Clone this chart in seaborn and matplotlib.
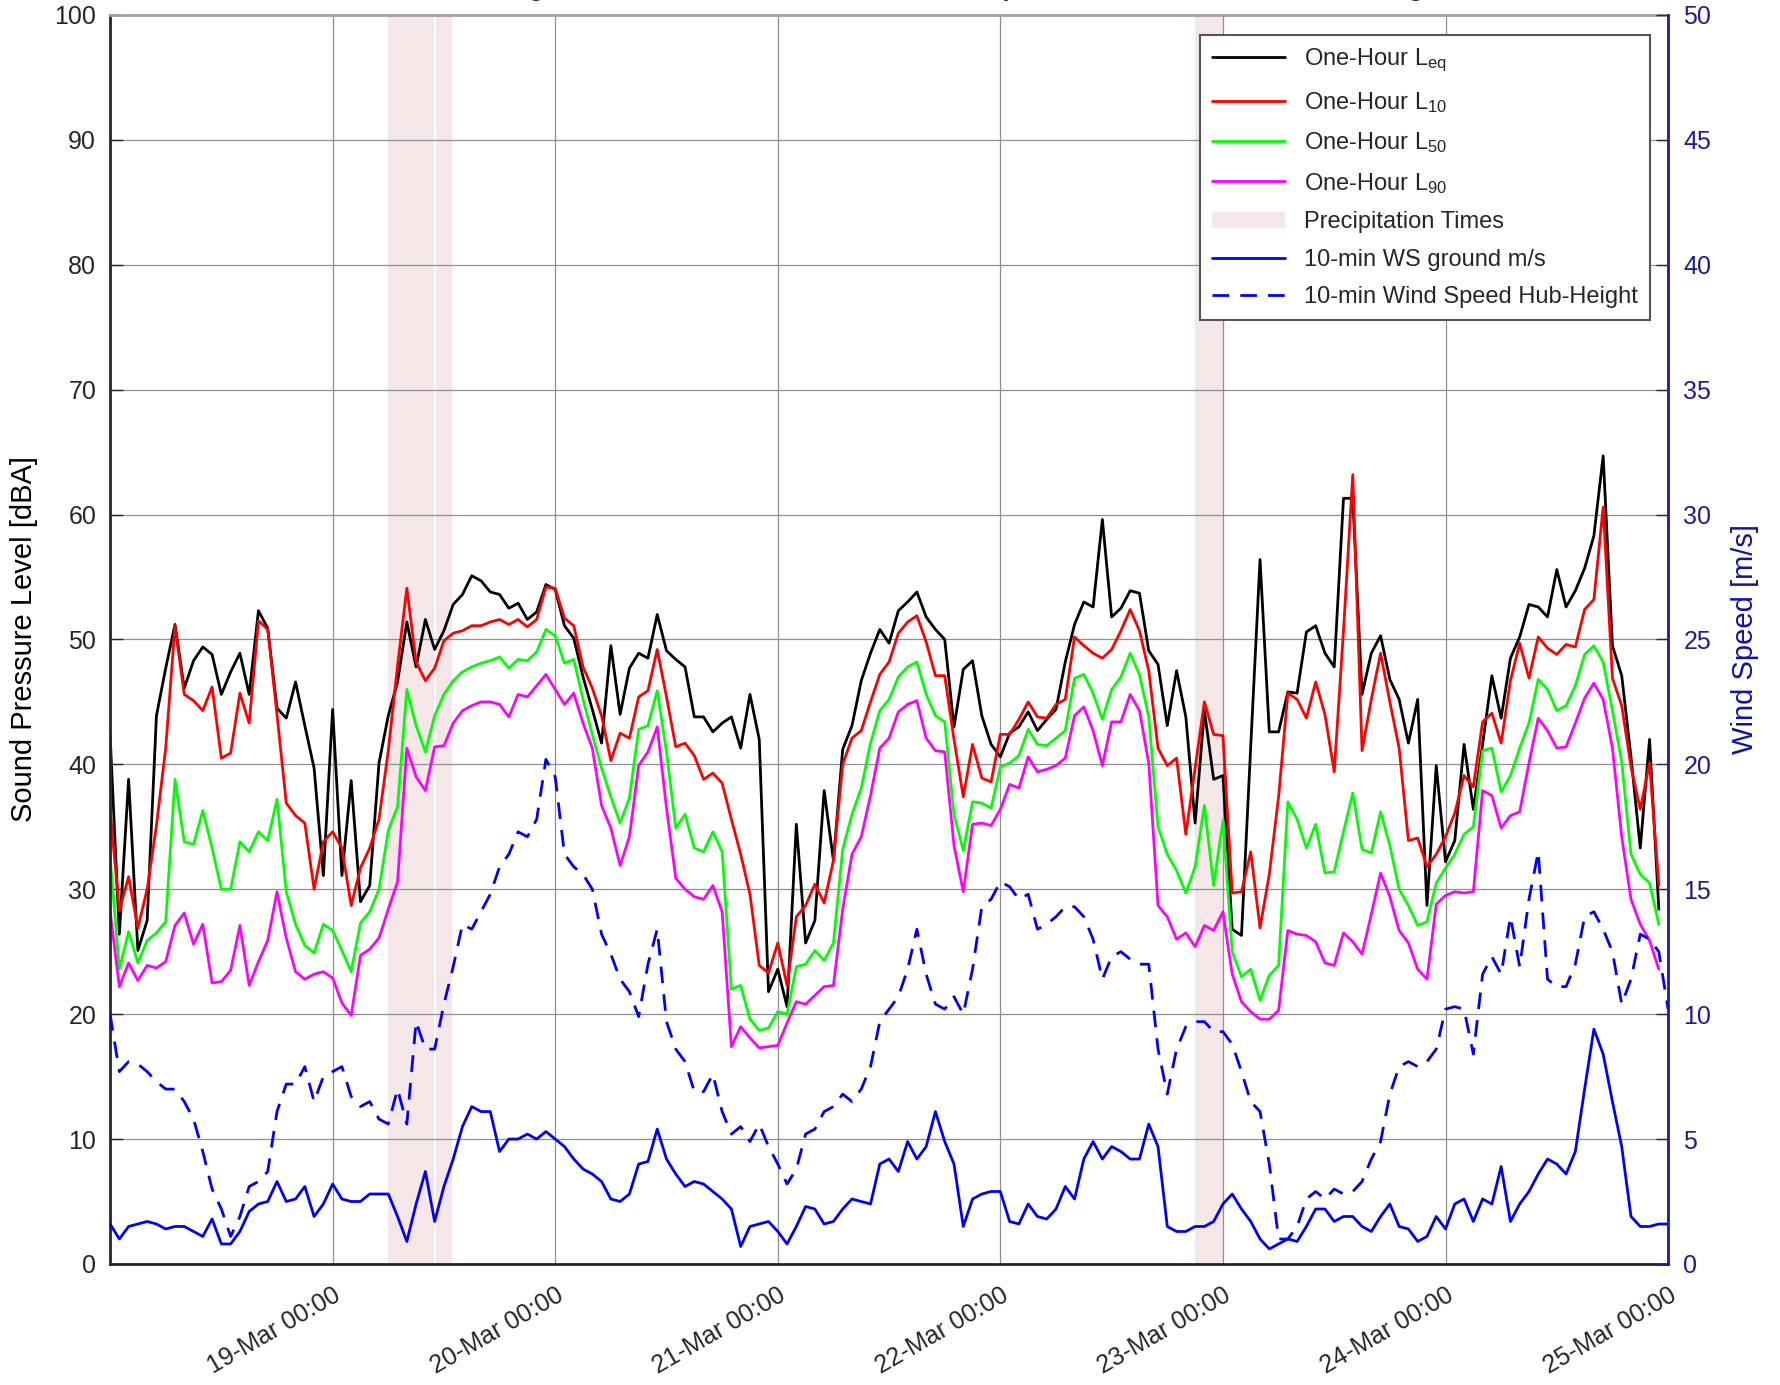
import numpy as np
import pandas as pd
import matplotlib
matplotlib.use('Agg')
import matplotlib.pyplot as plt
from matplotlib.patches import Patch
from matplotlib.lines import Line2D
import seaborn as sns

# ---- data (hourly sound levels, hourly wind readings) ----
start = pd.Timestamp('2019-03-18 00:00')

leq = [42.4, 26.4, 38.8, 25.1, 27.5, 43.9, 47.7, 51.2, 46.1, 48.3, 49.4, 48.8, 45.6, 47.4, 48.9, 45.6, 52.3, 50.9, 44.5, 43.7, 46.6, 43.1, 39.7, 31.1,
       44.4, 31.1, 38.7, 29.0, 30.3, 40.1, 43.9, 46.6, 51.4, 47.8, 51.6, 49.2, 50.7, 52.8, 53.6, 55.1, 54.7, 53.8, 53.6, 52.5, 52.9, 51.6, 52.2, 54.4,
       54.0, 51.1, 50.1, 47.0, 44.4, 41.7, 49.5, 44.0, 47.7, 48.9, 48.5, 52.0, 49.1, 48.4, 47.8, 43.8, 43.8, 42.6, 43.3, 43.8, 41.3, 45.6, 42.0, 21.8,
       23.6, 20.6, 35.2, 25.7, 27.5, 37.9, 32.3, 41.2, 43.1, 46.7, 48.9, 50.8, 49.7, 52.3, 53.0, 53.8, 51.8, 50.8, 50.0, 43.0, 47.6, 48.3, 43.9, 41.6,
       40.6, 42.5, 43.0, 44.2, 42.7, 43.6, 44.4, 48.2, 51.2, 53.0, 52.6, 59.6, 51.8, 52.5, 53.9, 53.7, 49.1, 48.0, 43.1, 47.5, 43.8, 35.3, 44.3, 38.8,
       39.1, 26.8, 26.3, 41.5, 56.4, 42.6, 42.6, 45.8, 45.7, 50.6, 51.1, 48.9, 47.8, 61.3, 61.3, 45.6, 48.9, 50.3, 46.8, 45.2, 41.7, 45.2, 28.7, 39.9,
       32.2, 33.9, 41.6, 36.4, 41.6, 47.1, 43.7, 48.5, 50.2, 52.8, 52.6, 51.8, 55.6, 52.6, 53.9, 55.7, 58.3, 64.7, 49.5, 47.1, 40.6, 33.3, 42.0, 28.4]

l10 = [36.4, 28.3, 31.0, 26.9, 30.0, 35.1, 41.3, 51.1, 45.6, 45.1, 44.3, 46.2, 40.5, 40.9, 45.7, 43.3, 51.5, 50.8, 44.0, 36.9, 35.9, 35.3, 30.0, 33.8,
       34.6, 33.3, 28.7, 31.7, 33.3, 35.6, 41.1, 47.9, 54.1, 48.2, 46.7, 47.7, 49.9, 50.5, 50.7, 51.1, 51.1, 51.4, 51.6, 51.2, 51.6, 51.0, 51.6, 54.2,
       54.1, 51.7, 51.1, 47.8, 46.1, 43.9, 40.3, 42.5, 42.1, 45.4, 45.9, 49.2, 45.4, 41.4, 41.7, 40.7, 38.8, 39.3, 38.5, 35.6, 32.8, 29.6, 23.9, 23.3,
       25.7, 22.3, 27.8, 28.7, 30.4, 28.9, 32.3, 40.0, 42.1, 42.7, 45.0, 47.2, 48.2, 50.5, 51.4, 51.9, 49.8, 47.1, 47.1, 42.0, 37.4, 41.6, 38.9, 38.6,
       42.4, 42.4, 43.6, 45.0, 43.8, 43.7, 44.8, 45.2, 50.2, 49.5, 48.9, 48.5, 49.2, 50.7, 52.4, 50.7, 47.5, 41.3, 39.9, 40.5, 34.4, 39.7, 45.0, 42.4,
       42.3, 29.7, 29.8, 33.0, 26.9, 31.2, 37.4, 45.7, 45.2, 43.7, 46.6, 44.0, 39.4, 50.7, 63.2, 41.1, 45.2, 48.9, 45.0, 41.3, 33.9, 34.1, 31.8, 32.8,
       34.2, 36.1, 39.1, 38.2, 43.4, 44.1, 41.7, 46.7, 49.7, 46.9, 50.2, 49.3, 48.8, 49.6, 49.4, 52.4, 53.2, 60.6, 46.9, 44.7, 39.8, 36.4, 40.1, 30.3]

l50 = [32.6, 23.6, 26.6, 24.1, 25.9, 26.5, 27.4, 38.8, 33.8, 33.6, 36.3, 33.3, 30.0, 30.0, 33.8, 33.0, 34.6, 33.9, 37.2, 29.8, 27.2, 25.5, 24.9, 27.2,
       26.7, 25.1, 23.4, 27.3, 28.2, 30.0, 34.7, 36.6, 46.0, 43.1, 41.0, 43.9, 45.6, 46.7, 47.4, 47.8, 48.1, 48.3, 48.6, 47.7, 48.4, 48.3, 49.0, 50.8,
       50.3, 48.1, 48.4, 45.2, 42.4, 39.7, 37.4, 35.3, 37.3, 42.8, 43.1, 45.9, 41.0, 34.9, 36.0, 33.3, 33.0, 34.6, 33.0, 22.0, 22.3, 19.6, 18.7, 18.9,
       20.2, 20.0, 23.8, 24.0, 25.1, 24.3, 25.7, 33.2, 36.0, 38.1, 41.7, 44.3, 45.2, 47.0, 47.8, 48.2, 45.6, 43.9, 43.4, 36.0, 33.1, 37.0, 36.9, 36.5,
       39.8, 40.1, 40.7, 42.8, 41.6, 41.5, 42.1, 42.7, 46.9, 47.2, 45.7, 43.6, 46.0, 47.0, 48.9, 47.2, 43.8, 35.0, 32.8, 31.5, 29.7, 31.8, 36.7, 30.3,
       35.5, 25.0, 23.0, 23.6, 21.1, 23.1, 23.9, 37.0, 35.6, 33.3, 35.2, 31.3, 31.4, 34.6, 37.7, 33.2, 32.9, 36.2, 33.5, 30.0, 28.7, 27.1, 27.4, 30.5,
       31.7, 32.8, 34.4, 35.0, 41.1, 41.3, 37.8, 39.1, 41.3, 43.3, 46.8, 46.0, 44.3, 44.7, 46.3, 48.8, 49.5, 48.2, 44.3, 40.2, 32.8, 31.2, 30.5, 27.2]

l90 = [28.3, 22.2, 24.1, 22.7, 23.9, 23.7, 24.2, 27.1, 28.1, 25.6, 27.2, 22.5, 22.6, 23.5, 27.1, 22.3, 24.2, 25.9, 29.8, 26.1, 23.4, 22.8, 23.2, 23.4,
       22.9, 20.9, 19.9, 24.7, 25.2, 26.1, 28.4, 30.6, 41.3, 39.0, 37.9, 41.4, 41.5, 43.3, 44.3, 44.7, 45.0, 45.0, 44.8, 43.8, 45.6, 45.4, 46.3, 47.2,
       46.0, 44.8, 45.7, 43.3, 41.3, 36.7, 34.9, 31.9, 34.2, 39.9, 41.0, 43.0, 36.5, 30.9, 30.0, 29.4, 29.2, 30.3, 28.2, 17.4, 19.0, 18.1, 17.3, 17.4,
       17.5, 19.3, 21.0, 20.8, 21.5, 22.2, 22.3, 28.4, 32.8, 34.2, 37.5, 41.3, 42.1, 44.2, 44.8, 45.1, 42.1, 41.1, 41.0, 33.5, 29.8, 35.2, 35.3, 35.1,
       36.4, 38.4, 38.1, 40.6, 39.4, 39.6, 39.9, 40.5, 43.9, 44.6, 42.7, 39.9, 43.4, 43.4, 45.6, 44.3, 40.1, 28.7, 27.8, 26.0, 26.5, 25.4, 27.1, 26.7,
       28.2, 23.2, 21.0, 20.2, 19.6, 19.6, 20.3, 26.7, 26.4, 26.3, 25.8, 24.1, 23.9, 26.5, 25.8, 24.8, 28.0, 31.3, 29.4, 26.7, 25.7, 23.6, 22.8, 28.8,
       29.5, 29.8, 29.7, 29.8, 37.9, 37.5, 34.9, 35.9, 36.2, 40.1, 43.7, 42.7, 41.3, 41.4, 43.3, 45.3, 46.5, 45.2, 41.3, 34.2, 29.2, 27.2, 25.9, 23.6]

ws_ground = [1.6, 1.0, 1.5, 1.6, 1.7, 1.6, 1.4, 1.5, 1.5, 1.3, 1.1, 1.8, 0.8, 0.8, 1.3, 2.1, 2.4, 2.5, 3.3, 2.5, 2.6, 3.1, 1.9, 2.4,
             3.2, 2.6, 2.5, 2.5, 2.8, 2.8, 2.8, 1.9, 0.9, 2.4, 3.7, 1.7, 3.1, 4.2, 5.5, 6.3, 6.1, 6.1, 4.5, 5.0, 5.0, 5.2, 5.0, 5.3,
             5.0, 4.7, 4.2, 3.8, 3.6, 3.3, 2.6, 2.5, 2.8, 4.0, 4.1, 5.4, 4.2, 3.6, 3.1, 3.3, 3.2, 2.9, 2.6, 2.2, 0.7, 1.5, 1.6, 1.7,
             1.3, 0.8, 1.5, 2.3, 2.2, 1.6, 1.7, 2.2, 2.6, 2.5, 2.4, 4.0, 4.2, 3.7, 4.9, 4.2, 4.7, 6.1, 4.9, 4.0, 1.5, 2.6, 2.8, 2.9,
             2.9, 1.7, 1.6, 2.4, 1.9, 1.8, 2.2, 3.1, 2.6, 4.2, 4.9, 4.2, 4.7, 4.5, 4.2, 4.2, 5.6, 4.7, 1.5, 1.3, 1.3, 1.5, 1.5, 1.7,
             2.4, 2.8, 2.2, 1.7, 1.0, 0.6, 0.8, 1.0, 0.9, 1.5, 2.2, 2.2, 1.7, 1.9, 1.9, 1.5, 1.3, 1.9, 2.4, 1.5, 1.4, 0.9, 1.1, 1.9,
             1.4, 2.4, 2.6, 1.7, 2.6, 2.4, 3.9, 1.7, 2.4, 2.9, 3.6, 4.2, 4.0, 3.6, 4.5, 7.0, 9.4, 8.4, 6.5, 4.7, 1.9, 1.5, 1.5, 1.6, 1.6]

ws_hub = [10.0, 7.7, 8.1, 8.0, 7.7, 7.3, 7.0, 7.0, 6.5, 5.8, 4.5, 3.0, 2.2, 1.1, 1.9, 3.1, 3.3, 3.7, 6.1, 7.2, 7.2, 7.9, 6.5, 7.5,
          7.7, 7.9, 6.7, 6.3, 6.5, 5.8, 5.6, 7.0, 5.6, 9.7, 8.6, 8.6, 10.4, 11.9, 13.6, 13.4, 14.1, 14.8, 15.9, 16.4, 17.3, 17.1, 17.8, 20.2,
          19.5, 16.4, 15.9, 15.6, 15.0, 13.2, 12.4, 11.4, 10.9, 9.9, 12.0, 13.4, 9.7, 8.6, 8.1, 6.9, 6.9, 7.6, 6.1, 5.2, 5.5, 4.9, 5.6, 4.7,
          4.0, 3.2, 3.8, 5.2, 5.4, 6.1, 6.3, 6.8, 6.5, 7.0, 7.9, 9.7, 10.2, 10.7, 11.8, 13.4, 11.6, 10.4, 10.2, 10.7, 10.0, 11.8, 14.3, 14.6,
          15.3, 15.1, 14.6, 14.8, 13.4, 13.6, 13.9, 14.3, 14.3, 13.9, 13.0, 11.4, 12.3, 12.5, 12.2, 12.0, 12.0, 8.6, 6.8, 8.6, 9.5, 9.7, 9.7, 9.3,
          9.3, 8.8, 7.7, 6.5, 6.1, 4.0, 1.0, 1.0, 1.5, 2.6, 2.9, 2.6, 3.0, 2.8, 2.9, 3.3, 4.2, 4.9, 6.8, 7.9, 8.1, 7.9, 8.1, 8.6,
          10.2, 10.3, 10.2, 8.4, 11.6, 12.3, 11.6, 13.9, 11.9, 14.6, 16.5, 11.4, 11.1, 11.1, 12.0, 13.9, 14.1, 13.4, 12.5, 10.4, 11.4, 13.2, 13.0, 12.5, 10.2]

# precipitation windows (hours after start)
precip_start = [30.0, 35.15, 117.0]
precip_end = [34.95, 36.9, 120.0]

day_ticks = pd.date_range('2019-03-19', '2019-03-25', freq='D')

# ---- style ----
sns.set_style('white')
plt.rcParams['font.family'] = ['Liberation Sans', 'DejaVu Sans']
plt.rcParams['mathtext.fontset'] = 'custom'
plt.rcParams['mathtext.rm'] = 'Liberation Sans'
plt.rcParams['mathtext.it'] = 'Liberation Sans:italic'

precip_col = '#F5E7E8'
navy = '#1C1C96'
lw = 2.0

fig = plt.figure(figsize=(17.81, 13.85), dpi=100)
ax = fig.add_axes([0.0618, 0.0874, 0.8748, 0.9018])

for s, e in zip(precip_start, precip_end):
    ax.axvspan(start + pd.Timedelta(hours=s), start + pd.Timedelta(hours=e),
               color=precip_col, lw=0, zorder=0)

t_snd = pd.date_range(start, periods=len(leq), freq='h')
for vals, col in [(leq, 'black'), (l10, '#FF0000'), (l50, '#00FF00'), (l90, '#FF00FF')]:
    sns.lineplot(x=t_snd[:len(vals)], y=vals, ax=ax, color=col, lw=lw)

ax.set_xlim(start, start + pd.Timedelta(days=7))
ax.set_ylim(0, 100)
ax.set_yticks(np.arange(0, 101, 10))
ax.set_xticks(day_ticks)
ax.set_xticklabels([d.strftime('%d-%b %H:%M') for d in day_ticks], rotation=30,
                   ha='right', rotation_mode='anchor', fontsize=18, color='#262626')
ax.tick_params(axis='y', labelsize=18, colors='#262626', direction='in', length=9, width=1, pad=10)
ax.tick_params(axis='x', direction='in', length=9, width=1, pad=14)
ax.grid(True, color='#8f8f8f', lw=0.9)
ax.set_ylabel('Sound Pressure Level [dBA]', fontsize=21, color='black', labelpad=12)
ax.set_xlabel('')
for sp in ['left', 'bottom']:
    ax.spines[sp].set_color('#262626')
    ax.spines[sp].set_linewidth(2)
ax.spines['top'].set_color('#a0a0a0')
ax.spines['top'].set_linewidth(2)
ax.spines['right'].set_visible(False)

ax2 = ax.twinx()
t_ws = pd.date_range(start, periods=len(ws_ground), freq='h')
sns.lineplot(x=t_ws, y=ws_ground, ax=ax2, color='#0000FF', lw=lw)
t_hub = pd.date_range(start, periods=len(ws_hub), freq='h')
sns.lineplot(x=t_hub, y=ws_hub, ax=ax2, color='#0000FF', lw=lw, linestyle=(0, (6, 4)))
ax2.set_ylim(0, 50)
ax2.set_yticks(np.arange(0, 51, 5))
ax2.set_xlim(ax.get_xlim())
ax2.tick_params(axis='y', labelsize=18, colors=navy, direction='in', length=9, width=1, pad=11)
ax2.set_ylabel('Wind Speed [m/s]', fontsize=21, color='#1010B0', labelpad=14)
for sp in ['left', 'bottom', 'top']:
    ax2.spines[sp].set_visible(False)
ax2.spines['right'].set_color(navy)
ax2.spines['right'].set_linewidth(2)

handles = [Line2D([], [], color='black', lw=lw),
           Line2D([], [], color='#FF0000', lw=lw),
           Line2D([], [], color='#00FF00', lw=lw),
           Line2D([], [], color='#FF00FF', lw=lw),
           Patch(facecolor=precip_col, edgecolor='none'),
           Line2D([], [], color='#0000FF', lw=lw),
           Line2D([], [], color='#0000FF', lw=lw, linestyle=(0, (6, 4)))]
labels = [r'One-Hour L$_{\mathrm{eq}}$', r'One-Hour L$_{\mathrm{10}}$',
          r'One-Hour L$_{\mathrm{50}}$', r'One-Hour L$_{\mathrm{90}}$',
          'Precipitation Times', '10-min WS ground m/s', '10-min Wind Speed Hub-Height']
leg = ax2.legend(handles, labels, loc='upper right', bbox_to_anchor=(1650 / 1781, 1 - 35 / 1385),
                 bbox_transform=fig.transFigure, fontsize=17, frameon=True, fancybox=False,
                 framealpha=1, edgecolor='#555555', handlelength=3.1, borderaxespad=0,
                 labelspacing=0.66, borderpad=0.5)
leg.get_frame().set_linewidth(1.5)

# title sits mostly above the canvas, as in the source export
fig.text(0.4991, 1 + 4 / 1385,
         'Station 1 - Long-term Ambient Time Series and Wind Speeds for Turbine Noise Monitoring',
         ha='center', va='baseline', fontsize=18, fontweight='bold')

fig.savefig('out.png', dpi=100)
